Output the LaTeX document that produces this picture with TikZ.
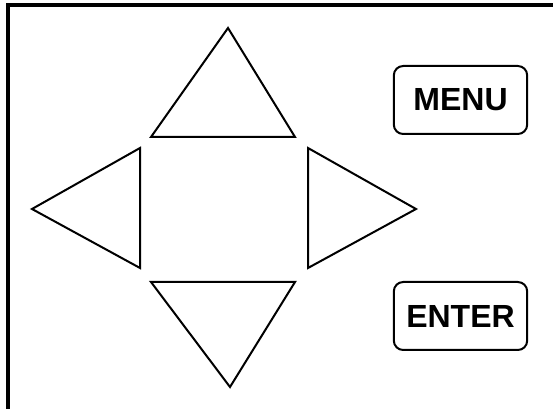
\documentclass[tikz,border=0pt]{standalone}
\usepackage{fontspec}
\setmainfont{Liberation Sans}
\usepackage{xcolor}
\definecolor{ink}{HTML}{000000}

\begin{document}
\begin{tikzpicture}[x=0.75pt,y=-0.75pt]
  \useasboundingbox (0,0) rectangle (553,409);
  \clip (0,0) rectangle (553,409);
  % panel
  \draw[ink, line width=2.3pt] (8,5) rectangle (600,450);
  % arrow keys
  \coordinate (uptip) at (228,28);
  \coordinate (upleft) at (151,137);
  \coordinate (upright) at (295,137);
  \coordinate (lefttip) at (32,209);
  \coordinate (lefttop) at (140,148);
  \coordinate (leftbot) at (140,268);
  \coordinate (righttip) at (416,209);
  \coordinate (righttop) at (308,148);
  \coordinate (rightbot) at (308,268);
  \coordinate (downtip) at (230,387);
  \coordinate (downleft) at (151,282);
  \coordinate (downright) at (295,282);
  \draw[ink, line width=1.5pt] (upleft) -- (uptip) -- (upright) -- cycle;
  \draw[ink, line width=1.5pt] (lefttop) -- (lefttip) -- (leftbot) -- cycle;
  \draw[ink, line width=1.5pt] (righttop) -- (righttip) -- (rightbot) -- cycle;
  \draw[ink, line width=1.5pt] (downleft) -- (downtip) -- (downright) -- cycle;
  % buttons
  \foreach \pos/\name/\txt in {(460.5,100)/menu/MENU,(460.5,316)/enter/ENTER}{
    \node[draw=ink, line width=1.5pt, rounded corners=7pt, minimum width=100pt, minimum height=51pt, inner sep=0pt, font=\fontsize{24}{28}\selectfont\bfseries] (\name) at \pos {\txt};
  }
\end{tikzpicture}
\end{document}
